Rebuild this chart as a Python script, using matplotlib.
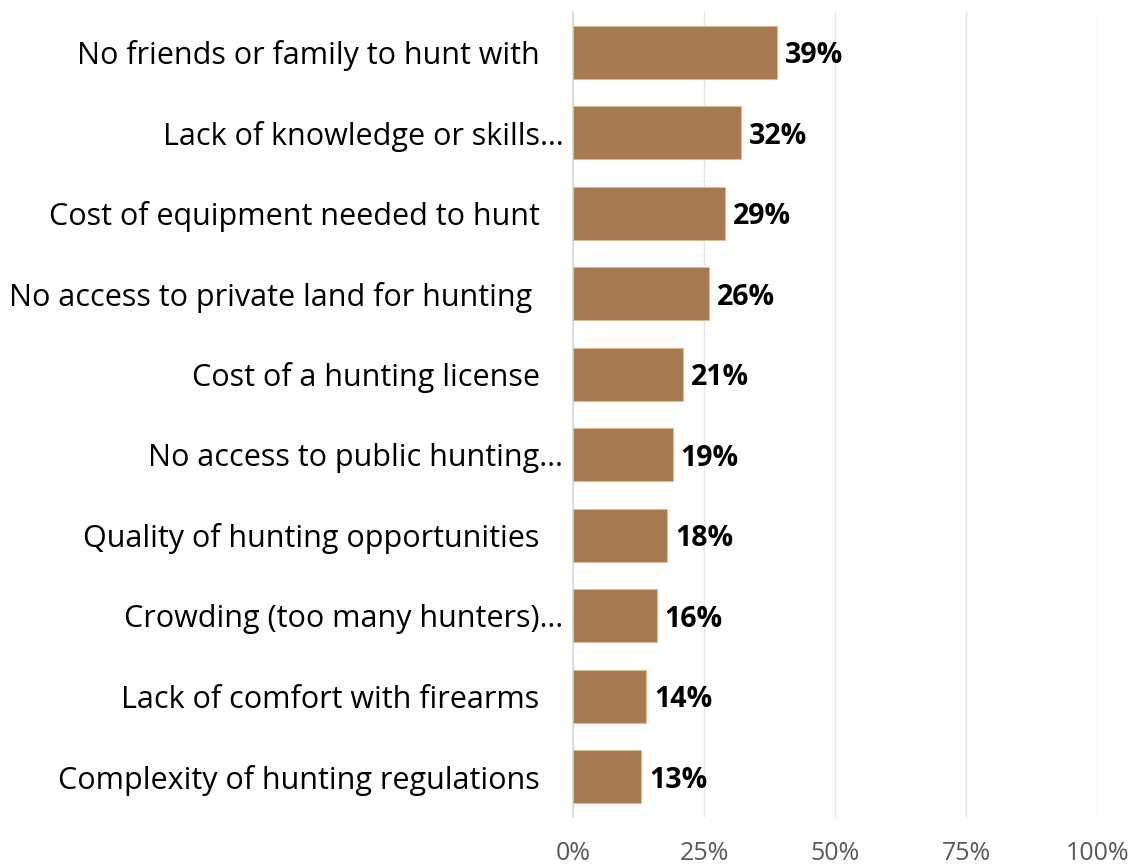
import matplotlib.pyplot as plt
import numpy as np

# Reasons for not hunting (share of respondents), top to bottom
reasons = [
    "No friends or family to hunt with   ",
    "Lack of knowledge or skills…",
    "Cost of equipment needed to hunt   ",
    "No access to private land for hunting    ",
    "Cost of a hunting license   ",
    "No access to public hunting…",
    "Quality of hunting opportunities   ",
    "Crowding (too many hunters)…",
    "Lack of comfort with firearms   ",
    "Complexity of hunting regulations   ",
]
shares = [39, 32, 29, 26, 21, 19, 18, 16, 14, 13]
xticks = [0, 25, 50, 75, 100]
xtick_labels = ["0%", "25%", "50%", "75%", "100%"]

plt.rcParams['font.family'] = ['Open Sans', 'DejaVu Sans']

fig = plt.figure(figsize=(11.38, 8.67), dpi=100)
ax = fig.add_axes([0.5035, 0.0577, 0.4605, 0.9285])

y = np.arange(len(reasons))[::-1]
ax.barh(y, shares, height=0.66, color='#A67A50', edgecolor='#D9B99A',
        linewidth=0.8, zorder=3)

for yi, v in zip(y, shares):
    ax.text(v + 1.5, yi, f"{v}%", va='center_baseline', ha='left',
            fontsize=20.5, fontweight='bold', color='black', zorder=4)

ax.set_xlim(0, 100)
ax.set_ylim(-0.5, len(reasons) - 0.5)
ax.set_xticks(xticks)
ax.set_xticklabels(xtick_labels, fontsize=18, color='#595959')
ax.set_yticks(y)
ax.set_yticklabels(reasons, fontsize=22, color='black')
ax.tick_params(axis='x', length=0, pad=17)
ax.tick_params(axis='y', length=0, pad=7)

ax.grid(axis='x', color='#E6E6E6', linewidth=1, zorder=0)
for side in ['top', 'right', 'bottom']:
    ax.spines[side].set_visible(False)
ax.spines['left'].set_color('#D9D9D9')
ax.spines['left'].set_linewidth(1.2)

fig.savefig('out.png', dpi=100, facecolor='white')
